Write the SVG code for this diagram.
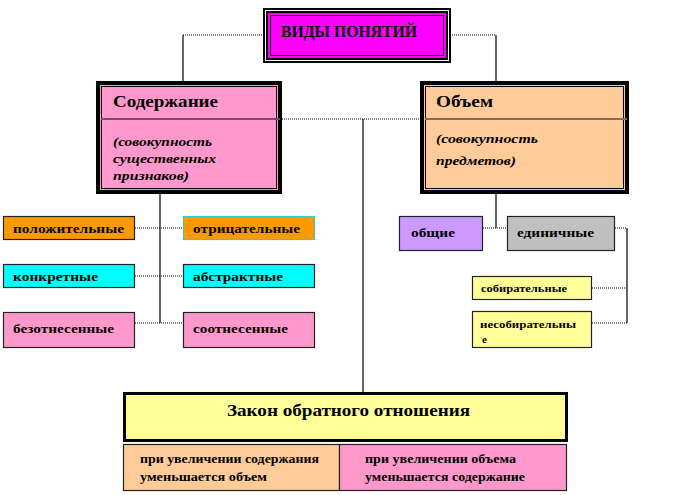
<svg xmlns="http://www.w3.org/2000/svg" width="675" height="495" viewBox="0 0 675 495">
<style>
text{font-family:"Liberation Serif","DejaVu Serif",serif;font-weight:bold;fill:#000}
.small{font-size:13px}
.it{font-style:italic;font-size:13px}
.box{stroke:#222;stroke-width:1.2}
.solid{fill:none;stroke:#000;stroke-width:1.2}
.dot{fill:none;stroke:#000;stroke-width:1.2;stroke-dasharray:1 1}
</style>
<rect width="675" height="495" fill="#fff"/>
<g id="connectors">
  <path class="solid" d="M183 85 V35"/>
  <path class="dot" d="M183 35 H264"/>
  <path class="dot" d="M450 35 H496"/>
  <path class="solid" d="M496 35 V85"/>
  <path class="dot" d="M282 119 H420"/>
  <path class="solid" d="M363 119 V392"/>
  <path class="solid" d="M160 194 V323"/>
  <path class="dot" d="M135 228 H183 M135 276 H183 M135 323 H183"/>
  <path class="solid" d="M496 194 V228"/>
  <path class="dot" d="M483 228 H507"/>
  <path class="dot" d="M615 228 H627"/>
  <path class="solid" d="M627 228 V323"/>
  <path class="dot" d="M592 288 H627 M592 323 H627"/>
</g>
<g id="vidy">
  <rect x="264" y="9" width="186" height="53" fill="#fff" stroke="#000" stroke-width="2"/>
  <rect x="267" y="12" width="180" height="47" fill="#FF00FF" stroke="#000" stroke-width="2"/>
  <rect x="270.5" y="15.5" width="173" height="40" fill="none" stroke="#000" stroke-width="1"/>
  <text x="281" y="37" font-size="16" textLength="136" lengthAdjust="spacingAndGlyphs">ВИДЫ ПОНЯТИЙ</text>
</g>
<g id="soderzhanie">
  <rect x="98" y="83" width="182" height="109" fill="#FF99CC" stroke="#000" stroke-width="4"/>
  <rect x="101.5" y="86.5" width="175" height="102" fill="none" stroke="#000" stroke-width="1"/>
  <line x1="101" y1="119" x2="280" y2="119" stroke="#7A4A66" stroke-width="2"/>
  <text x="113" y="107" font-size="17" textLength="105" lengthAdjust="spacingAndGlyphs">Содержание</text>
  <text class="it" x="113" y="146" textLength="99" lengthAdjust="spacingAndGlyphs">(совокупность</text>
  <text class="it" x="113" y="163" textLength="103" lengthAdjust="spacingAndGlyphs">существенных</text>
  <text class="it" x="113" y="180" textLength="76" lengthAdjust="spacingAndGlyphs">признаков)</text>
</g>
<g id="obem">
  <rect x="422" y="83" width="205" height="109" fill="#FFCC99" stroke="#000" stroke-width="4"/>
  <rect x="425.5" y="86.5" width="198" height="102" fill="none" stroke="#000" stroke-width="1"/>
  <line x1="425" y1="119" x2="627" y2="119" stroke="#8A6A50" stroke-width="2"/>
  <text x="436" y="107" font-size="17" textLength="57" lengthAdjust="spacingAndGlyphs">Объем</text>
  <text class="it" x="436" y="143" textLength="102" lengthAdjust="spacingAndGlyphs">(совокупность</text>
  <text class="it" x="436" y="165" textLength="80" lengthAdjust="spacingAndGlyphs">предметов)</text>
</g>
<g id="polozh">
  <rect class="box" x="3.5" y="216.5" width="131" height="23" fill="#FF9900"/>
  <text class="small" x="13" y="233" textLength="111" lengthAdjust="spacingAndGlyphs">положительные</text>
</g>
<g id="otric">
  <rect x="183.5" y="216.5" width="131" height="23" fill="#FF9900" stroke="#33CCCC" stroke-width="1.2"/>
  <text class="small" x="193" y="233" textLength="107" lengthAdjust="spacingAndGlyphs">отрицательные</text>
</g>
<g id="konkr">
  <rect class="box" x="3.5" y="264.5" width="131" height="23" fill="#00FFFF"/>
  <text class="small" x="13" y="281" textLength="85" lengthAdjust="spacingAndGlyphs">конкретные</text>
</g>
<g id="abstr">
  <rect class="box" x="183.5" y="264.5" width="131" height="23" fill="#00FFFF"/>
  <text class="small" x="193" y="281" textLength="90" lengthAdjust="spacingAndGlyphs">абстрактные</text>
</g>
<g id="bezotn">
  <rect class="box" x="3.5" y="312.5" width="131" height="35" fill="#FF99CC"/>
  <text class="small" x="13" y="333" textLength="101" lengthAdjust="spacingAndGlyphs">безотнесенные</text>
</g>
<g id="sootn">
  <rect class="box" x="183.5" y="312.5" width="131" height="35" fill="#FF99CC"/>
  <text class="small" x="193" y="333" textLength="95" lengthAdjust="spacingAndGlyphs">соотнесенные</text>
</g>
<g id="obshie">
  <rect class="box" x="399.5" y="216.5" width="83" height="34" fill="#CC99FF"/>
  <text class="small" x="411" y="237" textLength="44" lengthAdjust="spacingAndGlyphs">общие</text>
</g>
<g id="edin">
  <rect class="box" x="507.5" y="216.5" width="107" height="34" fill="#C0C0C0"/>
  <text class="small" x="517" y="237" textLength="77" lengthAdjust="spacingAndGlyphs">единичные</text>
</g>
<g id="sobir">
  <rect class="box" x="472.5" y="276.5" width="119" height="23" fill="#FFFF99"/>
  <text x="481" y="292" font-size="11" textLength="86" lengthAdjust="spacingAndGlyphs">собирательные</text>
</g>
<g id="nesobir">
  <rect class="box" x="472.5" y="311.5" width="119" height="36" fill="#FFFF99"/>
  <text x="480" y="328" font-size="11" textLength="96" lengthAdjust="spacingAndGlyphs">несобирательны</text>
  <text x="482" y="343" font-size="11">е</text>
</g>
<g id="zakon">
  <rect x="124.5" y="393.5" width="442" height="47" fill="#FFFF99" stroke="#000" stroke-width="3"/>
  <text x="227" y="416" font-size="16" textLength="243" lengthAdjust="spacingAndGlyphs">Закон обратного отношения</text>
</g>
<g id="zakon-left">
  <rect class="box" x="123.5" y="444.5" width="216" height="46" fill="#FFCC99"/>
  <text x="140" y="463" font-size="13" textLength="179" lengthAdjust="spacingAndGlyphs">при увеличении  содержания</text>
  <text x="140" y="481" font-size="13" textLength="127" lengthAdjust="spacingAndGlyphs">уменьшается объем</text>
</g>
<g id="zakon-right">
  <rect class="box" x="339.5" y="444.5" width="227" height="46" fill="#FF99CC"/>
  <text x="365" y="463" font-size="13" textLength="151" lengthAdjust="spacingAndGlyphs">при увеличении  объема</text>
  <text x="365" y="481" font-size="13" textLength="160" lengthAdjust="spacingAndGlyphs">уменьшается содержание</text>
</g>
</svg>
